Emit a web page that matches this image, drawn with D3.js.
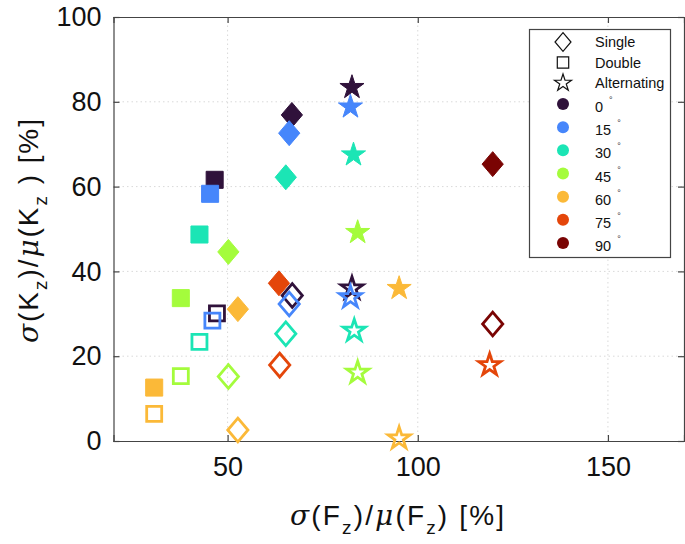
<!DOCTYPE html>
<html>
<head>
<meta charset="utf-8">
<script src="https://cdn.jsdelivr.net/npm/d3@7"></script>
<style>
  body { margin: 0; background: #fff; }
  svg { display: block; font-family: "Liberation Sans", Arial, sans-serif; }
</style>
</head>
<body>
<div class="graph"></div>
<script>
// Tamaño general
const width = 685;
const height = 544;

// Ángulos
const angles = [0, 15, 30, 45, 60, 75, 90];
// Colores por ángulo (mapa turbo)
const angleColors = ["#30123b", "#4686fb", "#1be5b5", "#a4fc3c", "#fbb938", "#e4460a", "#7a0403"];

// Single (rombo), relleno / vacío
const singleFilledF = [66.9, 66.2, 65.3, 50.2, 52.7, 63.5, 119.7];
const singleFilledK = [76.9, 72.6, 62.2, 44.6, 31.1, 37.2, 65.3];
const singleOpenF = [67.0, 66.2, 65.3, 50.2, 52.7, 63.7, 119.7];
const singleOpenK = [34.3, 32.3, 25.3, 15.2, 2.6, 17.9, 27.6];

// Double (cuadrado)
const doubleFilledF = [46.6, 45.4, 42.6, 37.7, 30.7, null, null];
const doubleFilledK = [61.6, 58.3, 48.7, 33.7, 12.6, null, null];
const doubleOpenF = [47.2, 46.0, 42.6, 37.7, 30.7, null, null];
const doubleOpenK = [30.1, 28.4, 23.4, 15.3, 6.4, null, null];

// Alternating (estrella)
const altFilledF = [82.7, 82.3, 83.1, 84.2, 95.1, null, null];
const altFilledK = [83.4, 78.8, 67.5, 49.2, 36.0, null, null];
const altOpenF = [82.7, 82.3, 83.3, 84.2, 95.1, 118.9, null];
const altOpenK = [36.0, 33.9, 26.0, 16.1, 0.6, 17.9, null];

// Ticks
const xTicks = [50, 100, 150];
const yTicks = [0, 20, 40, 60, 80, 100];
const shapeNames = ["Single", "Double", "Alternating"];

const color = d3.scaleOrdinal().domain(angles).range(angleColors);

const svg = d3.select(".graph").append("svg")
    .attr("width", width)
    .attr("height", height);

const x = d3.scaleLinear().domain([20, 170]).range([113.5, 684]);
const y = d3.scaleLinear().domain([0, 100]).range([441, 17]);

// Rombo tipo MATLAB (un poco más alto que ancho)
const diamond = {
    draw(ctx, size) {
        const h = Math.sqrt(size / 1.7);
        const w = h * 0.85;
        ctx.moveTo(0, -h);
        ctx.lineTo(w, 0);
        ctx.lineTo(0, h);
        ctx.lineTo(-w, 0);
        ctx.closePath();
    }
};

// Cuadrícula punteada
svg.append("g")
    .selectAll("line")
    .data(xTicks)
    .join("line")
    .attr("x1", d => x(d)).attr("x2", d => x(d))
    .attr("y1", y(0)).attr("y2", y(100))
    .attr("stroke", "#d9d9d9")
    .attr("stroke-dasharray", "1.5,3");
svg.append("g")
    .selectAll("line")
    .data(yTicks.slice(1, -1))
    .join("line")
    .attr("x1", x(20)).attr("x2", x(170))
    .attr("y1", d => y(d)).attr("y2", d => y(d))
    .attr("stroke", "#d9d9d9")
    .attr("stroke-dasharray", "1.5,3");

// Ejes
const xAxis = svg.append("g")
    .attr("transform", `translate(0, ${y(0)})`)
    .call(d3.axisBottom(x).tickValues(xTicks).tickSize(-6).tickPadding(16));
const xAxisTop = svg.append("g")
    .attr("transform", `translate(0, ${y(100)})`)
    .call(d3.axisTop(x).tickValues(xTicks).tickSize(-6).tickFormat(""));
const yAxis = svg.append("g")
    .attr("transform", `translate(${x(20)}, 0)`)
    .call(d3.axisLeft(y).tickValues(yTicks).tickSize(-6).tickPadding(12));
const yAxisRight = svg.append("g")
    .attr("transform", `translate(${x(170)}, 0)`)
    .call(d3.axisRight(y).tickValues(yTicks).tickSize(-6).tickFormat(""));

[xAxis, xAxisTop, yAxis, yAxisRight].forEach(g => {
    g.select(".domain").attr("stroke", "#444").attr("stroke-width", 1.2);
    g.selectAll(".tick line").attr("stroke", "#444").attr("stroke-width", 1.2);
    g.selectAll(".tick text")
        .attr("fill", "#111")
        .style("font-size", "27px")
        .style("font-family", "Liberation Sans, Arial, sans-serif");
});
xAxis.selectAll(".tick text").attr("dy", "0.71em");

// Títulos de los ejes (con sub-índice z)
function axisTitle(sel, letter, gap) {
    sel.append("tspan").style("font-family", "DejaVu Serif, serif").style("font-style", "italic").text("σ");
    sel.append("tspan").text("(" + letter);
    sel.append("tspan").attr("dy", 9).style("font-size", "19px").text("z");
    sel.append("tspan").attr("dy", -9).text(")/");
    sel.append("tspan").style("font-family", "DejaVu Serif, serif").style("font-style", "italic").text("μ");
    sel.append("tspan").text("(" + letter);
    sel.append("tspan").attr("dy", 9).style("font-size", "19px").text("z");
    sel.append("tspan").attr("dy", -9).text(gap + ") [%]");
}

const xLabel = svg.append("text")
    .attr("x", 397)
    .attr("y", 525)
    .attr("text-anchor", "middle")
    .attr("textLength", 214)
    .attr("lengthAdjust", "spacing")
    .style("font-size", "28px")
    .attr("fill", "#111");
axisTitle(xLabel, "F", "");

const yLabel = svg.append("text")
    .attr("transform", "translate(38, 231) rotate(-90)")
    .attr("text-anchor", "middle")
    .attr("textLength", 224)
    .attr("lengthAdjust", "spacing")
    .style("font-size", "28px")
    .attr("fill", "#111");
axisTitle(yLabel, "K", " ");

// Series (rellenas primero, vacías encima)
const series = [
    { fx: singleFilledF, ky: singleFilledK, type: diamond, size: 265, filled: true },
    { fx: doubleFilledF, ky: doubleFilledK, type: d3.symbolSquare, size: 290, filled: true },
    { fx: altFilledF, ky: altFilledK, type: d3.symbolStar, size: 180, filled: true },
    { fx: singleOpenF, ky: singleOpenK, type: diamond, size: 240, filled: false },
    { fx: doubleOpenF, ky: doubleOpenK, type: d3.symbolSquare, size: 225, filled: false },
    { fx: altOpenF, ky: altOpenK, type: d3.symbolStar, size: 150, filled: false }
];

series.forEach(s => {
    const pts = angles
        .map((a, i) => ({ a, f: s.fx[i], k: s.ky[i] }))
        .filter(d => d.f !== null);
    svg.append("g")
        .selectAll("path")
        .data(pts)
        .join("path")
        .attr("transform", d => `translate(${x(d.f)}, ${y(d.k)})`)
        .attr("d", d3.symbol().type(s.type).size(s.size))
        .attr("fill", d => s.filled ? color(d.a) : "none")
        .attr("stroke", d => color(d.a))
        .attr("stroke-width", s.filled ? 1 : 2.8)
        .attr("stroke-linejoin", "miter");
});

// Leyenda
const legend = svg.append("g").attr("id", "legend");
legend.append("rect")
    .attr("x", 529.5).attr("y", 29.5)
    .attr("width", 141).attr("height", 228)
    .attr("fill", "#fff")
    .attr("stroke", "#444")
    .attr("stroke-width", 1.2);

const shapeTypes = [diamond, d3.symbolSquare, d3.symbolStar];
const shapeSizes = [150, 130, 90];
const legendRow = d3.scaleLinear().domain([0, 2]).range([42, 83]);
const legendAngleRow = d3.scaleLinear().domain([0, 90]).range([104, 243]);

legend.append("g")
    .selectAll("path")
    .data(shapeNames)
    .join("path")
    .attr("transform", (d, i) => `translate(563, ${legendRow(i)})`)
    .attr("d", (d, i) => d3.symbol().type(shapeTypes[i]).size(shapeSizes[i])())
    .attr("fill", "none")
    .attr("stroke", "#111")
    .attr("stroke-width", 1.2);

legend.append("g")
    .selectAll("text")
    .data(shapeNames)
    .join("text")
    .attr("x", 595)
    .attr("y", (d, i) => legendRow(i) + 5)
    .style("font-size", "14.5px")
    .attr("fill", "#111")
    .text(d => d);

legend.append("g")
    .selectAll("circle")
    .data(angles)
    .join("circle")
    .attr("cx", 563)
    .attr("cy", d => legendAngleRow(d))
    .attr("r", 6)
    .attr("fill", d => color(d));

const angleNum = legend.append("g")
    .selectAll("text")
    .data(angles)
    .join("text")
    .attr("x", 595)
    .attr("y", d => legendAngleRow(d) + 8)
    .style("font-size", "14.5px")
    .attr("fill", "#111")
    .text(d => d);

// Símbolo de grado como superíndice pequeño
legend.append("g")
    .selectAll("text")
    .data(angles)
    .join("text")
    .attr("x", (d, i) => 595 + angleNum.nodes()[i].getComputedTextLength() + 6)
    .attr("y", d => legendAngleRow(d) - 1)
    .style("font-size", "9px")
    .attr("fill", "#333")
    .text("°");
</script>
</body>
</html>
